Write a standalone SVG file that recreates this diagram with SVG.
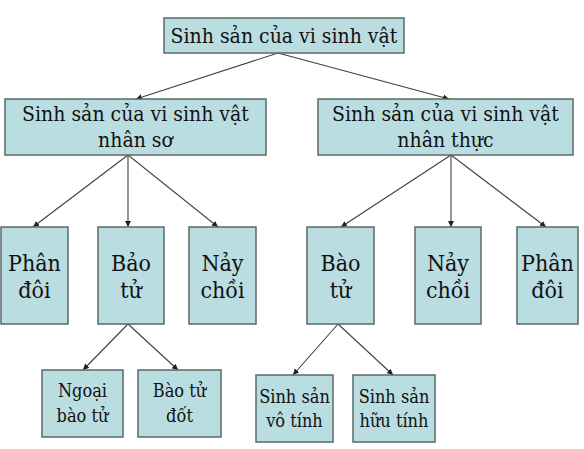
<svg xmlns="http://www.w3.org/2000/svg" width="584" height="449" viewBox="0 0 584 449">
<style>
.box{fill:#badde2;stroke:#5a6868;stroke-width:1.5}
text{font-family:'DejaVu Serif',serif;font-stretch:condensed;fill:#111;text-anchor:middle}
.t1{font-size:21px}
.t2{font-size:23px}
.t3{font-size:18px}
.c{stroke:#404040;stroke-width:1.1;fill:none;marker-end:url(#ah)}
</style>
<defs>
<marker id="ah" markerUnits="userSpaceOnUse" markerWidth="8" markerHeight="8" refX="6" refY="3" orient="auto">
<path d="M0,0 L6,3 L0,6 Z" fill="#202020"/>
</marker>
</defs>
<rect width="584" height="449" fill="#ffffff"/>
<g id="connectors">
<line class="c" x1="278" y1="53" x2="136" y2="99"/>
<line class="c" x1="278" y1="53" x2="449" y2="99"/>
<line class="c" x1="128" y1="155" x2="33" y2="227"/>
<line class="c" x1="128" y1="155" x2="128" y2="227"/>
<line class="c" x1="128" y1="155" x2="218" y2="227"/>
<line class="c" x1="451" y1="155" x2="341" y2="227"/>
<line class="c" x1="451" y1="155" x2="451" y2="227"/>
<line class="c" x1="451" y1="155" x2="546" y2="227"/>
<line class="c" x1="128" y1="324" x2="83" y2="370"/>
<line class="c" x1="128" y1="324" x2="178" y2="370"/>
<line class="c" x1="338" y1="324" x2="293" y2="375"/>
<line class="c" x1="338" y1="324" x2="393" y2="375"/>
</g>
<g id="root">
<rect class="box" x="164" y="18" width="240" height="35"/>
<text class="t1" x="284" y="43">Sinh sản của vi sinh vật</text>
</g>
<g id="nhanso">
<rect class="box" x="5" y="99" width="261" height="56"/>
<text class="t1" x="135.5" y="121">Sinh sản của vi sinh vật</text>
<text class="t1" x="135.5" y="147">nhân sơ</text>
</g>
<g id="nhanthuc">
<rect class="box" x="318" y="99" width="255" height="56"/>
<text class="t1" x="445.5" y="121">Sinh sản của vi sinh vật</text>
<text class="t1" x="445.5" y="147">nhân thực</text>
</g>
<g id="phandoi-l">
<rect class="box" x="1" y="227" width="67" height="97"/>
<text class="t2" x="34.5" y="271">Phân</text>
<text class="t2" x="34.5" y="298">đôi</text>
</g>
<g id="baotu-l">
<rect class="box" x="98" y="227" width="66" height="97"/>
<text class="t2" x="131" y="271">Bảo</text>
<text class="t2" x="131" y="298">tử</text>
</g>
<g id="naychoi-l">
<rect class="box" x="189" y="227" width="67" height="97"/>
<text class="t2" x="222.5" y="271">Nảy</text>
<text class="t2" x="222.5" y="298">chồi</text>
</g>
<g id="baotu-r">
<rect class="box" x="307" y="227" width="67" height="97"/>
<text class="t2" x="340.5" y="271">Bào</text>
<text class="t2" x="340.5" y="298">tử</text>
</g>
<g id="naychoi-r">
<rect class="box" x="415" y="227" width="66" height="97"/>
<text class="t2" x="448" y="271">Nảy</text>
<text class="t2" x="448" y="298">chồi</text>
</g>
<g id="phandoi-r">
<rect class="box" x="517" y="227" width="61" height="97"/>
<text class="t2" x="547.5" y="271">Phân</text>
<text class="t2" x="547.5" y="298">đôi</text>
</g>
<g id="ngoaibaotu">
<rect class="box" x="42" y="370" width="81" height="67"/>
<text class="t3" x="82.5" y="397">Ngoại</text>
<text class="t3" x="82.5" y="422">bào tử</text>
</g>
<g id="baotudot">
<rect class="box" x="138" y="370" width="83" height="67"/>
<text class="t3" x="179.5" y="397">Bào tử</text>
<text class="t3" x="179.5" y="422">đốt</text>
</g>
<g id="votinh">
<rect class="box" x="256" y="375" width="77" height="67"/>
<text class="t3" x="294.5" y="403">Sinh sản</text>
<text class="t3" x="294.5" y="427">vô tính</text>
</g>
<g id="huutinh">
<rect class="box" x="353" y="375" width="82" height="67"/>
<text class="t3" x="394" y="403">Sinh sản</text>
<text class="t3" x="394" y="427">hữu tính</text>
</g>
</svg>
